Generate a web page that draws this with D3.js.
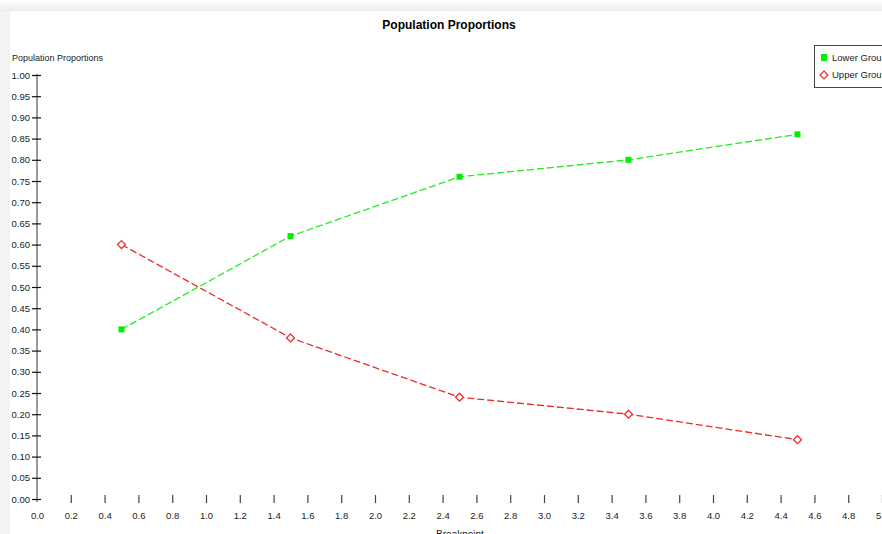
<!DOCTYPE html>
<html>
<head>
<meta charset="utf-8">
<script src="https://cdn.jsdelivr.net/npm/d3@7"></script>
<style>
  body { margin: 0; background: #fff; }
  #chart { width: 882px; height: 534px; overflow: hidden; }
  text { font-family: "Liberation Sans Narrow", "Liberation Sans", Arial, sans-serif; }
</style>
</head>
<body>
<div id="chart"></div>
<script>

// DATA

const breakpoints = [0.5, 1.5, 2.5, 3.5, 4.5];
const lowerGroup = [0.40, 0.62, 0.76, 0.80, 0.86];
const upperGroup = [0.60, 0.38, 0.24, 0.20, 0.14];
const xTicks = d3.range(0, 26).map(function(i) { return i * 0.2; });
const yTicks = d3.range(0, 21).map(function(i) { return i * 0.05; });

// SVG CANVAS

const width = 882;
const height = 534;

const svg = d3.select("#chart")
    .append("svg")
    .attr("width", width)
    .attr("height", height);

// FRAME (light gray border shadow)

const defs = svg.append("defs");
const topGrad = defs.append("linearGradient")
    .attr("id", "topGrad").attr("x1", 0).attr("y1", 0).attr("x2", 0).attr("y2", 1);
topGrad.append("stop").attr("offset", "0%").attr("stop-color", "#ffffff");
topGrad.append("stop").attr("offset", "100%").attr("stop-color", "#ececec");

svg.append("rect").attr("width", width).attr("height", height).attr("fill", "#f3f3f3");
svg.append("rect").attr("width", width).attr("height", 11).attr("fill", "url(#topGrad)");
svg.append("rect").attr("x", 10).attr("y", 11).attr("width", width - 10).attr("height", height - 11).attr("fill", "#fff");

// SCALES

const xScale = d3.scaleLinear()
    .domain([0, 5])
    .range([37, 882]);

const yScale = d3.scaleLinear()
    .domain([0, 1])
    .range([499, 75]);

// TITLE

svg.append("text")
    .attr("x", 449)
    .attr("y", 29)
    .attr("text-anchor", "middle")
    .attr("font-family", "Liberation Sans, Arial, sans-serif")
    .attr("font-size", 12)
    .attr("font-weight", "bold")
    .attr("fill", "#000")
    .text("Population Proportions");

// Y AXIS

svg.append("line")
    .attr("x1", 37).attr("x2", 37)
    .attr("y1", 74).attr("y2", 502)
    .attr("stroke", "#999")
    .attr("stroke-width", 2);

const yAxis = svg.append("g")
    .attr("transform", "translate(37,0)")
    .call(d3.axisLeft(yScale)
        .tickValues(yTicks)
        .tickFormat(d3.format(".2f"))
        .tickSizeInner(0)
        .tickSizeOuter(0)
        .tickPadding(7));

yAxis.select(".domain").remove();
yAxis.selectAll(".tick text")
    .attr("font-size", 9.5)
    .attr("fill", "#222")
    .attr("font-family", null);

yAxis.selectAll(".tick")
    .append("line")
    .attr("x1", -5).attr("x2", 4)
    .attr("stroke", "#111")
    .attr("stroke-width", 1.2);

svg.append("text")
    .attr("x", 12)
    .attr("y", 61)
    .attr("font-size", 9)
    .attr("fill", "#222")
    .text("Population Proportions");

// X AXIS

const xAxis = svg.append("g")
    .attr("transform", "translate(0,503)")
    .call(d3.axisBottom(xScale)
        .tickValues(xTicks)
        .tickFormat(d3.format(".1f"))
        .tickSizeInner(0)
        .tickSizeOuter(0)
        .tickPadding(9));

xAxis.select(".domain").remove();
xAxis.selectAll(".tick text")
    .attr("font-size", 9.5)
    .attr("fill", "#222")
    .attr("font-family", null);

xAxis.selectAll(".tick")
    .filter(function(d) { return d > 0; })
    .append("line")
    .attr("y1", -8).attr("y2", 0)
    .attr("stroke", "#444")
    .attr("stroke-width", 1.2);

svg.append("text")
    .attr("x", 460)
    .attr("y", 538)
    .attr("text-anchor", "middle")
    .attr("font-size", 10)
    .attr("fill", "#222")
    .text("Breakpoint");

// LINES

const line = d3.line()
    .x(function(d) { return xScale(d[0]); })
    .y(function(d) { return yScale(d[1]); });

const lowerData = breakpoints.map(function(b, i) { return [b, lowerGroup[i]]; });
const upperData = breakpoints.map(function(b, i) { return [b, upperGroup[i]]; });

svg.append("path")
    .datum(lowerData)
    .attr("d", line)
    .attr("fill", "none")
    .attr("stroke", "#22ee22")
    .attr("stroke-width", 1.3)
    .attr("stroke-dasharray", "7,3");

svg.append("path")
    .datum(upperData)
    .attr("d", line)
    .attr("fill", "none")
    .attr("stroke", "#ee2a2a")
    .attr("stroke-width", 1.3)
    .attr("stroke-dasharray", "7,3");

// MARKERS

svg.selectAll(".lower-pt")
    .data(lowerData)
    .enter()
    .append("rect")
    .attr("class", "lower-pt")
    .attr("x", function(d) { return xScale(d[0]) - 3; })
    .attr("y", function(d) { return yScale(d[1]) - 3; })
    .attr("width", 6)
    .attr("height", 6)
    .attr("fill", "#00ee00");

const diamond = d3.symbol().type(d3.symbolDiamond2).size(40);

svg.selectAll(".upper-pt")
    .data(upperData)
    .enter()
    .append("path")
    .attr("class", "upper-pt")
    .attr("transform", function(d) { return `translate(${xScale(d[0])},${yScale(d[1])})`; })
    .attr("d", diamond)
    .attr("fill", "#fff")
    .attr("stroke", "#ee2a2a")
    .attr("stroke-width", 1.3);

// LEGEND

const legend = svg.append("g").attr("transform", "translate(814,45)");

legend.append("rect")
    .attr("x", 0.5).attr("y", 0.5)
    .attr("width", 90).attr("height", 42)
    .attr("fill", "#fff")
    .attr("stroke", "#444")
    .attr("stroke-width", 1);

legend.append("rect")
    .attr("x", 7).attr("y", 9)
    .attr("width", 6).attr("height", 7)
    .attr("fill", "#00ee00");

legend.append("path")
    .attr("transform", "translate(10,30)")
    .attr("d", diamond)
    .attr("fill", "#fff")
    .attr("stroke", "#ee2a2a")
    .attr("stroke-width", 1.2);

legend.append("text")
    .attr("x", 18).attr("y", 16)
    .attr("font-size", 9.5)
    .attr("fill", "#222")
    .text("Lower Group");

legend.append("text")
    .attr("x", 18).attr("y", 33)
    .attr("font-size", 9.5)
    .attr("fill", "#222")
    .text("Upper Group");

</script>
</body>
</html>
